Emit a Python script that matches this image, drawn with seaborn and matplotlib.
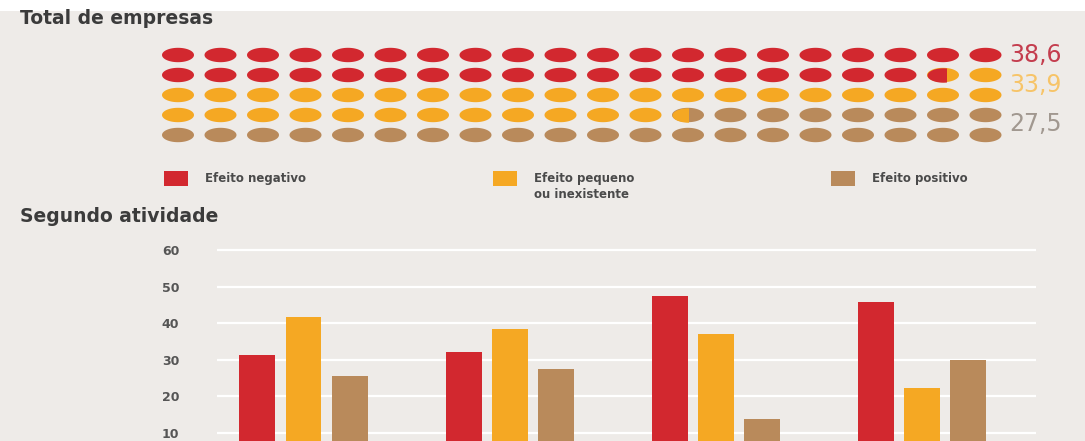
import numpy as np
import pandas as pd
import matplotlib
matplotlib.use("Agg")
import matplotlib.pyplot as plt
from matplotlib.path import Path
from matplotlib.patches import Rectangle
import seaborn as sns

# Data
effects = ["Efeito negativo", "Efeito pequeno\nou inexistente", "Efeito positivo"]
total_shares = [38.6, 33.9, 27.5]
total_labels = ["38,6", "33,9", "27,5"]
activities = ["A", "B", "C", "D"]  # category names are cut off in the reference
negativo = [31.3, 32.2, 47.5, 45.9]
pequeno = [41.7, 38.4, 37.0, 22.4]
positivo = [25.7, 27.5, 13.8, 29.9]
yticks = [10, 20, 30, 40, 50, 60]

colors = ["#d2282f", "#f5a823", "#b98a5b"]
label_colors = ["#c43d4e", "#f7c468", "#a19890"]
bg = "#eeebe8"

sns.set_style("white", rc={"axes.facecolor": bg, "figure.facecolor": bg})
plt.rcParams["font.family"] = ["DejaVu Sans"]

W, H = 1085, 441
fig = plt.figure(figsize=(W / 100, H / 100), dpi=100)

# ---- overlay for text, legend and top white strip (pixel coords)
ov = fig.add_axes([0, 0, 1, 1], zorder=0)
ov.set_xlim(0, W)
ov.set_ylim(H, 0)
ov.axis("off")
ov.add_patch(Rectangle((0, 0), W, 11, color="white", lw=0))
ov.text(20, 19, "Total de empresas", fontsize=13.5, fontweight="bold",
        color="#3b3b3b", va="center", ha="left")
ov.text(20, 217, "Segundo atividade", fontsize=13.5, fontweight="bold",
        color="#3b3b3b", va="center", ha="left")

leg_x = [164, 493, 831]
for x0, lab, c in zip(leg_x, effects, colors):
    ov.add_patch(Rectangle((x0, 171), 24, 15, color=c, lw=0))
    ov.text(x0 + 41, 172, lab, fontsize=8.5, fontweight="bold", color="#4a4a4a",
            va="top", ha="left", linespacing=1.3)

# ---- dot matrix (100 dots, 20 x 5)
cum = np.round(np.cumsum(total_shares), 1)
idx = np.arange(100)
base_cat = [int(np.searchsorted(cum, i + 1 - 1e-6, side="right")) for i in idx]
dots = pd.DataFrame({"col": idx % 20, "row": idx // 20,
                     "effect": [effects[k] for k in base_cat]})

t = np.linspace(0, 2 * np.pi, 60)
ellipse = Path(np.column_stack([np.cos(t), 0.45 * np.sin(t)]), closed=True)
dot_w = 0.753  # dot width in column units
msize = 531

axd = fig.add_axes([156.75 / W, (H - 145) / H, 850 / W, 100 / H], zorder=2)
axd.set_facecolor("none")
sns.scatterplot(data=dots, x="col", y="row", hue="effect", hue_order=effects,
                palette=colors, marker=ellipse, s=msize, linewidth=0,
                legend=False, ax=axd)

# partial dots: left part in the earlier category
for k, b in enumerate(cum[:-1]):
    i = int(np.floor(b))
    f = b - i
    if f > 1e-6:
        c, r = i % 20, i // 20
        part = pd.DataFrame({"col": [c], "row": [r]})
        sns.scatterplot(data=part, x="col", y="row", color=colors[k],
                        marker=ellipse, s=msize, linewidth=0, legend=False, ax=axd)
        clip = Rectangle((c - dot_w / 2, r - 0.5), f * dot_w, 1, transform=axd.transData)
        axd.collections[-1].set_clip_path(clip)

axd.set_xlim(-0.5, 19.5)
axd.set_ylim(4.5, -0.5)
axd.axis("off")

label_rows = [0, 1.5, 3.45]
for lab, yr, c in zip(total_labels, label_rows, label_colors):
    axd.text(19.55, yr, lab, fontsize=17, color=c, va="center", ha="left",
             clip_on=False)

# ---- bar chart by activity
bars = pd.DataFrame({
    "atividade": np.repeat(activities, 3),
    "effect": effects * len(activities),
    "valor": np.ravel(np.column_stack([negativo, pequeno, positivo])),
})
px_per_unit = 3.66
ymax = 62
axb = fig.add_axes([216.9 / W, (H - 469.6) / H, 818.6 / W, ymax * px_per_unit / H], zorder=1)
sns.barplot(data=bars, x="atividade", y="valor", hue="effect", hue_order=effects,
            palette=colors, width=0.67, gap=0.22, saturation=1, linewidth=0,
            legend=False, ax=axb)
axb.set_xlim(-0.42, 3.55)
axb.set_ylim(0, ymax)
axb.set_yticks(yticks)
axb.set_yticklabels([str(v) for v in yticks], fontsize=9, fontweight="bold", color="#555555")
axb.tick_params(axis="y", length=0, pad=27)
axb.set_xticks([])
axb.set_xlabel("")
axb.set_ylabel("")
axb.grid(axis="y", color="white", linewidth=1.6)
axb.set_axisbelow(True)
for s in axb.spines.values():
    s.set_visible(False)
axb.set_facecolor("none")

fig.savefig("out.png", dpi=100, facecolor=bg)
